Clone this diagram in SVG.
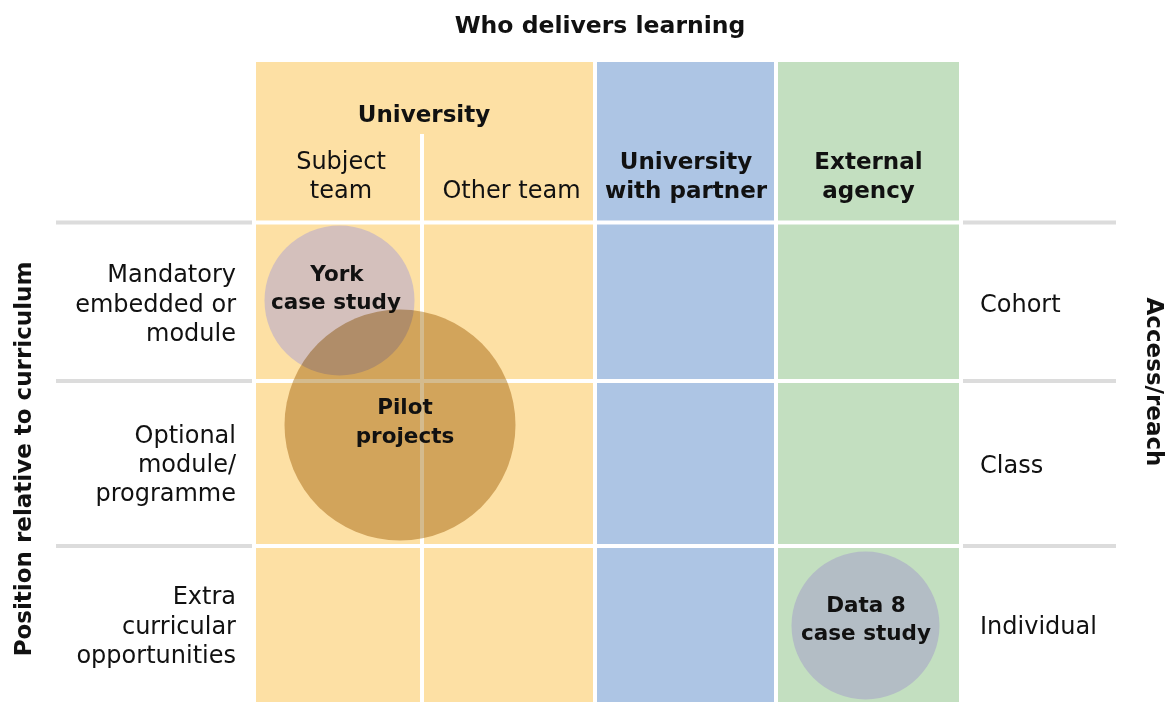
<svg xmlns="http://www.w3.org/2000/svg" width="1171" height="702" viewBox="0 0 1171 702">
  <style>
    text { font-family: "DejaVu Sans", "Noto Sans", sans-serif; fill: #111; }
    .b { font-weight: bold; }
    .hd { font-size: 23px; font-weight: bold; text-anchor: middle; }
    .reg { font-size: 24px; }
    .lab { font-size: 24px; text-anchor: end; }
    .cl { font-size: 21.5px; font-weight: bold; text-anchor: middle; }
    .uni { fill: #FDE0A4; }
    .par { fill: #ADC5E4; }
    .ext { fill: #C3DFC0; }
    .rule { stroke: #DCDCDC; stroke-width: 4; }
    .gap { stroke: #FFFFFF; stroke-width: 4; }
  </style>

  <rect width="1171" height="702" fill="#FFFFFF"/>

  <!-- Axis titles -->
  <g id="axis-top">
    <text class="b" x="600" y="33" font-size="23.5" text-anchor="middle">Who delivers learning</text>
  </g>
  <g id="axis-left">
    <text class="b" font-size="23" text-anchor="middle" transform="translate(31 459) rotate(-90)">Position relative to curriculum</text>
  </g>
  <g id="axis-right">
    <text class="b" font-size="23" text-anchor="middle" transform="translate(1147 382) rotate(90)">Access/reach</text>
  </g>

  <!-- Column bands -->
  <g id="col-university">
    <rect class="uni" x="256" y="62" width="337" height="640"/>
  </g>
  <g id="col-partner">
    <rect class="par" x="597" y="62" width="177" height="640"/>
  </g>
  <g id="col-external">
    <rect class="ext" x="778" y="62" width="181" height="640"/>
  </g>

  <!-- Grid gaps and row rules -->
  <g id="grid">
    <line class="gap" x1="422" y1="134" x2="422" y2="702"/>
    <line class="gap" x1="256" y1="222.5" x2="959" y2="222.5"/>
    <line class="gap" x1="256" y1="381" x2="959" y2="381"/>
    <line class="gap" x1="256" y1="546" x2="959" y2="546"/>
    <line class="rule" x1="56" y1="222.5" x2="252" y2="222.5"/>
    <line class="rule" x1="56" y1="381" x2="252" y2="381"/>
    <line class="rule" x1="56" y1="546" x2="252" y2="546"/>
    <line class="rule" x1="963" y1="222.5" x2="1116" y2="222.5"/>
    <line class="rule" x1="963" y1="381" x2="1116" y2="381"/>
    <line class="rule" x1="963" y1="546" x2="1116" y2="546"/>
  </g>

  <!-- Column headers -->
  <g id="head-university">
    <text class="hd" x="424" y="122">University</text>
    <text class="reg" x="341" y="169" text-anchor="middle">Subject</text>
    <text class="reg" x="341" y="198" text-anchor="middle">team</text>
    <text class="reg" x="511.5" y="198" text-anchor="middle">Other team</text>
  </g>
  <g id="head-partner">
    <text class="hd" x="686" y="169">University</text>
    <text class="hd" x="686" y="198">with partner</text>
  </g>
  <g id="head-external">
    <text class="hd" x="868.5" y="169">External</text>
    <text class="hd" x="868.5" y="198">agency</text>
  </g>

  <!-- Row labels (left) -->
  <g id="row-mandatory">
    <text class="lab" x="236" y="282">Mandatory</text>
    <text class="lab" x="236" y="312">embedded or</text>
    <text class="lab" x="236" y="341">module</text>
  </g>
  <g id="row-optional">
    <text class="lab" x="236" y="443">Optional</text>
    <text class="lab" x="236" y="472">module/</text>
    <text class="lab" x="236" y="501">programme</text>
  </g>
  <g id="row-extra">
    <text class="lab" x="236" y="604">Extra</text>
    <text class="lab" x="236" y="634">curricular</text>
    <text class="lab" x="236" y="663">opportunities</text>
  </g>

  <!-- Reach labels (right) -->
  <g id="reach-cohort"><text class="reg" x="980" y="312">Cohort</text></g>
  <g id="reach-class"><text class="reg" x="980" y="473">Class</text></g>
  <g id="reach-individual"><text class="reg" x="980" y="634">Individual</text></g>

  <!-- Case bubbles -->
  <g id="york">
    <circle cx="339.5" cy="300.5" r="75" fill="#D4C0BC"/>
    <text class="cl" x="337" y="281">York</text>
    <text class="cl" x="336" y="309">case study</text>
  </g>
  <g id="pilot">
    <circle cx="400" cy="425" r="115.5" fill="#D4BB8E" style="mix-blend-mode: multiply"/>
    <text class="cl" x="405" y="414" font-size="22.5">Pilot</text>
    <text class="cl" x="405" y="443" font-size="22.5">projects</text>
  </g>
  <g id="data8">
    <circle cx="865.5" cy="625.5" r="74" fill="#B3BDC5"/>
    <text class="cl" x="866" y="612">Data 8</text>
    <text class="cl" x="866" y="640">case study</text>
  </g>
</svg>
